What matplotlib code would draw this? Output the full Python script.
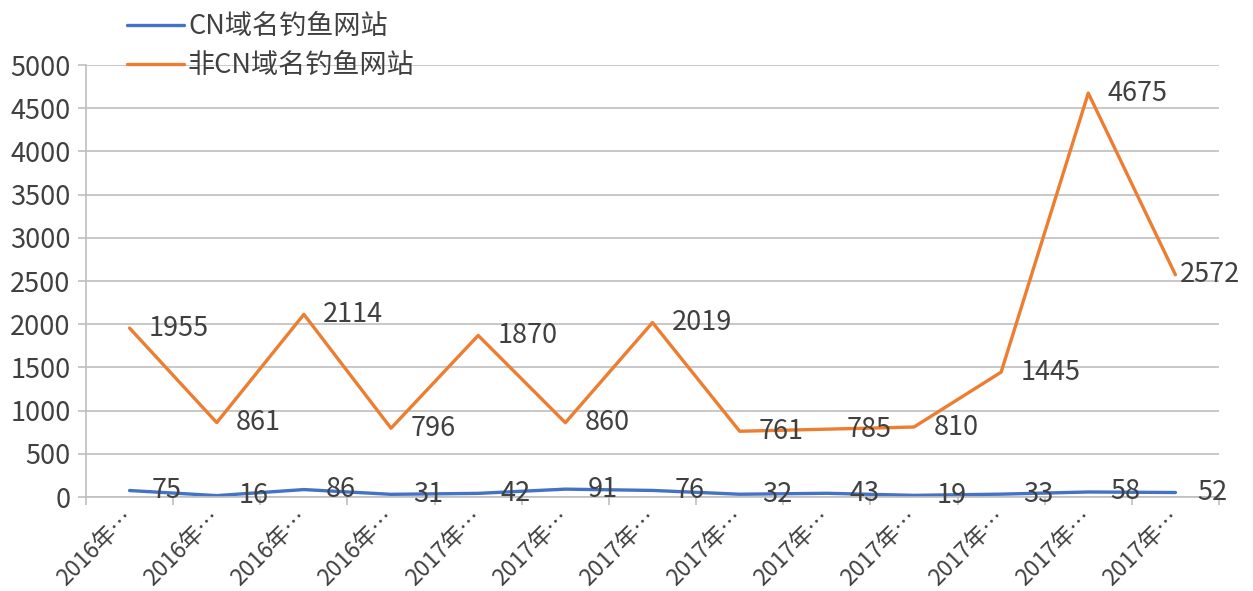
import matplotlib
matplotlib.use('Agg')
import matplotlib.pyplot as plt
import numpy as np

plt.rcParams['font.family'] = ['Noto Sans CJK SC', 'DejaVu Sans']

# data
categories = ['2016年…'] * 4 + ['2017年…'] * 9
cn_sites = [75, 16, 86, 31, 42, 91, 76, 32, 43, 19, 33, 58, 52]
non_cn_sites = [1955, 861, 2114, 796, 1870, 860, 2019, 761, 785, 810, 1445, 4675, 2572]
series_names = ['CN域名钓鱼网站', '非CN域名钓鱼网站']

blue = '#4472C4'
orange = '#ED7D31'
text_col = '#404040'
grid_col = '#BFBFBF'
fs = 19.5

fig = plt.figure(figsize=(12.53, 5.91), dpi=100)
ax = fig.add_axes([86/1253, 1-497/591, (1219-86)/1253, (497-65)/591])

x = np.arange(len(categories))
ax.plot(x, cn_sites, color=blue, lw=2.4, label=series_names[0], solid_capstyle='round')
ax.plot(x, non_cn_sites, color=orange, lw=2.4, label=series_names[1], solid_capstyle='round')

# data labels to the right of each point
for i, v in enumerate(cn_sites):
    ax.annotate(str(v), (x[i], v), xytext=(16, 0), textcoords='offset points',
                ha='left', va='center', fontsize=fs, color=text_col)
for i, v in enumerate(non_cn_sites):
    off = 3 if i == len(non_cn_sites) - 1 else 14
    ax.annotate(str(v), (x[i], v), xytext=(off, 0), textcoords='offset points',
                ha='left', va='center', fontsize=fs, color=text_col)

ax.set_xlim(-0.5, len(categories) - 0.5)
ax.set_ylim(0, 5000)
ax.set_yticks(np.arange(0, 5001, 500))
ax.yaxis.grid(True, color=grid_col, lw=1.2)
ax.set_axisbelow(True)

ax.set_xticks(x)
ax.set_xticklabels(categories, rotation=45, ha='right', va='center',
                   rotation_mode='anchor', fontsize=16.5, color=text_col)
ax.set_xticks(np.arange(-0.5, len(categories), 1), minor=True)
ax.tick_params(axis='x', which='major', length=0, pad=12)
ax.tick_params(axis='x', which='minor', length=6, color=grid_col, width=1.2)
ax.tick_params(axis='y', length=6, color=grid_col, width=1.2, labelsize=fs,
               labelcolor=text_col, pad=5)
for lbl in ax.get_xticklabels():
    lbl.set_x(lbl.get_position()[0] + 0.08)

for s in ['top', 'right']:
    ax.spines[s].set_visible(False)
for s in ['left', 'bottom']:
    ax.spines[s].set_color(grid_col)
    ax.spines[s].set_linewidth(1.2)

fig.legend(loc='upper left', bbox_to_anchor=(108/1253, 1.01), frameon=False,
           fontsize=fs, handlelength=2.1, handletextpad=0.15, labelspacing=0.45,
           borderpad=0.2, labelcolor=text_col)

fig.savefig('out.png', dpi=100)
